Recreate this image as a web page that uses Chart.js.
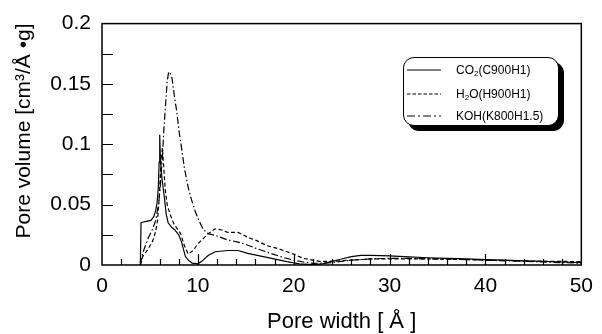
<!DOCTYPE html>
<html>
<head>
<meta charset="utf-8">
<script src="https://cdn.jsdelivr.net/npm/chart.js@4/dist/chart.umd.min.js"></script>
<style>
html,body{margin:0;padding:0;background:#fff;}
#wrap{position:relative;width:602px;height:334px;}
#legend{position:absolute;left:403px;top:57px;width:154px;height:67px;border:1.3px solid #000;border-radius:11px;box-shadow:5px 5px 0 #000;background:#fff;font-family:"Liberation Sans",Arial,sans-serif;font-size:12px;color:#000;}
.row{position:absolute;left:3px;height:14px;display:flex;align-items:center;}
.row svg{width:34px;height:4px;margin-right:15px;}
sub{font-size:8px;vertical-align:-2px;line-height:0;}
</style>
</head>
<body>
<div id="wrap">
<canvas id="c" width="602" height="334"></canvas>
<div id="legend">
  <div class="row" style="top:5px"><svg><line x1="0" y1="2" x2="34" y2="2" stroke="#000" stroke-width="1.2"/></svg><span>CO<sub>2</sub>(C900H1)</span></div>
  <div class="row" style="top:29px"><svg><line x1="0" y1="2" x2="34" y2="2" stroke="#000" stroke-width="1.2" stroke-dasharray="3.5,2"/></svg><span>H<sub>2</sub>O(H900H1)</span></div>
  <div class="row" style="top:51px"><svg><line x1="0" y1="2" x2="34" y2="2" stroke="#000" stroke-width="1.2" stroke-dasharray="8,3,2,3"/></svg><span>KOH(K800H1.5)</span></div>
</div>
</div>
<script>
// Pore width (Å) and pore volume (cm3/Å·g)
const co2X = [4.0,4.07,4.5,5.1,5.4,5.6,5.75,5.88,5.96,6.02,6.1,6.25,6.46,6.7,6.9,7.3,7.6,7.8,8.0,8.3,8.7,9.0,9.4,10.0,10.4,11.1,11.8,13.1,14.2,15.2,16.2,17.2,18.3,19.3,20.6,22.0,23.0,24.0,25.0,26.0,27.0,28.0,30.0,32.0,34.0,36.0,38.0,40.0,42.0,44.0,46.0,48.0,50.0];
const co2Y = [0,0.035,0.036,0.037,0.040,0.045,0.052,0.065,0.085,0.108,0.086,0.072,0.059,0.042,0.035,0.031,0.029,0.027,0.025,0.019,0.007,0.004,0.0016,0.001,0.003,0.008,0.011,0.012,0.012,0.0096,0.008,0.0063,0.0045,0.0028,0.001,0.0003,0.001,0.003,0.005,0.007,0.008,0.008,0.0075,0.0068,0.006,0.0055,0.005,0.0045,0.004,0.0035,0.003,0.0025,0.002];

const h2oX = [4.0,4.24,4.8,5.3,5.6,5.8,6.0,6.15,6.3,6.45,6.6,6.8,7.1,7.5,8.2,8.6,9.0,9.5,10.05,11.1,11.8,12.5,13.1,14.2,15.2,16.2,17.2,18.2,19.3,20.0,21.0,22.0,22.7,24.0,26.0,28.0,30.0,32.0,34.0,36.0,38.0,40.0,42.0,44.0,46.0,48.0,50.0];
const h2oY = [0,0.007,0.013,0.02,0.028,0.037,0.06,0.085,0.097,0.08,0.062,0.05,0.042,0.034,0.026,0.016,0.009,0.012,0.018,0.026,0.030,0.029,0.027,0.027,0.023,0.02,0.016,0.014,0.011,0.009,0.0055,0.004,0.003,0.003,0.004,0.005,0.005,0.005,0.005,0.0048,0.0045,0.004,0.0038,0.0035,0.003,0.003,0.0028];

const kohX = [4.0,4.24,4.8,5.3,5.6,5.9,6.1,6.3,6.46,6.65,6.8,6.95,7.1,7.3,7.55,7.8,8.05,8.3,8.6,9.0,9.3,9.7,10.1,10.6,11.1,12.0,13.0,14.2,15.0,16.0,17.6,19.0,20.0,21.0,22.0,23.0,24.0,26.0,28.0,30.0,32.0,34.0,36.0,38.0,40.0,42.0,44.0,46.0,48.0,50.0];
const kohY = [0,0.0096,0.022,0.03,0.037,0.05,0.067,0.09,0.113,0.135,0.152,0.16,0.159,0.155,0.14,0.127,0.11,0.097,0.08,0.064,0.055,0.045,0.037,0.029,0.026,0.024,0.021,0.019,0.017,0.014,0.0096,0.006,0.004,0.0025,0.0014,0.0015,0.002,0.004,0.005,0.0055,0.0055,0.005,0.005,0.0045,0.004,0.0035,0.003,0.0025,0.002,0.0015];

const xTickLabels = ["0","10","20","30","40","50"];
const yTickLabels = ["0","0.05","0.1","0.15","0.2"];
const xTitle = "Pore width [ Å ]";
const yTitle = "Pore volume [cm³/Å •g]";

const pts = (xs, ys) => xs.map((x, i) => ({x: x, y: ys[i]}));
const FONT = '"Liberation Sans", Arial, sans-serif';

const framePlugin = {
  id: 'frame',
  afterDraw(chart) {
    const ctx = chart.ctx, a = chart.chartArea;
    const xs = chart.scales.x, ys = chart.scales.y;
    ctx.save();
    ctx.strokeStyle = '#000';
    ctx.lineWidth = 1.5;
    ctx.strokeRect(a.left, a.top, a.right - a.left, a.bottom - a.top);
    ctx.lineWidth = 1.2;
    ctx.beginPath();
    for (let v = 2; v < 50; v += 2) {
      const px = Math.round(xs.getPixelForValue(v)) + 0.5;
      const len = (v % 10 === 0) ? 11 : 6;
      ctx.moveTo(px, a.bottom); ctx.lineTo(px, a.bottom - len);
    }
    for (let k = 1; k < 8; k++) {
      const py = Math.round(ys.getPixelForValue(k * 0.025)) + 0.5;
      ctx.moveTo(a.left, py); ctx.lineTo(a.left + 11, py);
    }
    ctx.stroke();
    // axis titles
    ctx.fillStyle = '#000';
    ctx.textAlign = 'center';
    ctx.textBaseline = 'middle';
    ctx.font = '22px ' + FONT;
    ctx.fillText(xTitle, (a.left + a.right) / 2, 322);
    ctx.font = '21px ' + FONT;
    ctx.translate(24, 131);
    ctx.rotate(-Math.PI / 2);
    ctx.fillText(yTitle, 0, 0);
    ctx.restore();
  }
};

new Chart(document.getElementById('c'), {
  type: 'scatter',
  data: {
    datasets: [
      {label: 'CO2(C900H1)', data: pts(co2X, co2Y), borderColor: '#000', borderWidth: 1.2, showLine: true, pointRadius: 0, tension: 0},
      {label: 'H2O(H900H1)', data: pts(h2oX, h2oY), borderColor: '#000', borderWidth: 1.2, borderDash: [4, 2.5], showLine: true, pointRadius: 0, tension: 0},
      {label: 'KOH(K800H1.5)', data: pts(kohX, kohY), borderColor: '#000', borderWidth: 1.2, borderDash: [7, 2.5, 1.5, 2.5], showLine: true, pointRadius: 0, tension: 0}
    ]
  },
  options: {
    responsive: false,
    animation: false,
    layout: {padding: {left: 0, right: 12, top: 21, bottom: 0}},
    plugins: {legend: {display: false}, tooltip: {enabled: false}},
    scales: {
      x: {
        type: 'linear', min: 0, max: 50,
        afterFit(s) { s.height = 69; },
        grid: {display: false, drawTicks: false},
        border: {display: false},
        ticks: {stepSize: 10, padding: 9, color: '#000', font: {family: FONT, size: 21},
          callback: (v) => { const i = Math.round(v / 10); return (Math.abs(v - i * 10) < 1e-6) ? xTickLabels[i] : ''; }}
      },
      y: {
        type: 'linear', min: 0, max: 0.2,
        afterFit(s) { s.width = 102; },
        grid: {display: false, drawTicks: false},
        border: {display: false},
        ticks: {stepSize: 0.05, padding: 11, color: '#000', font: {family: FONT, size: 21},
          callback: (v) => { const i = Math.round(v / 0.05); return (Math.abs(v - i * 0.05) < 1e-6) ? yTickLabels[i] : ''; }}
      }
    }
  },
  plugins: [framePlugin]
});
</script>
</body>
</html>
